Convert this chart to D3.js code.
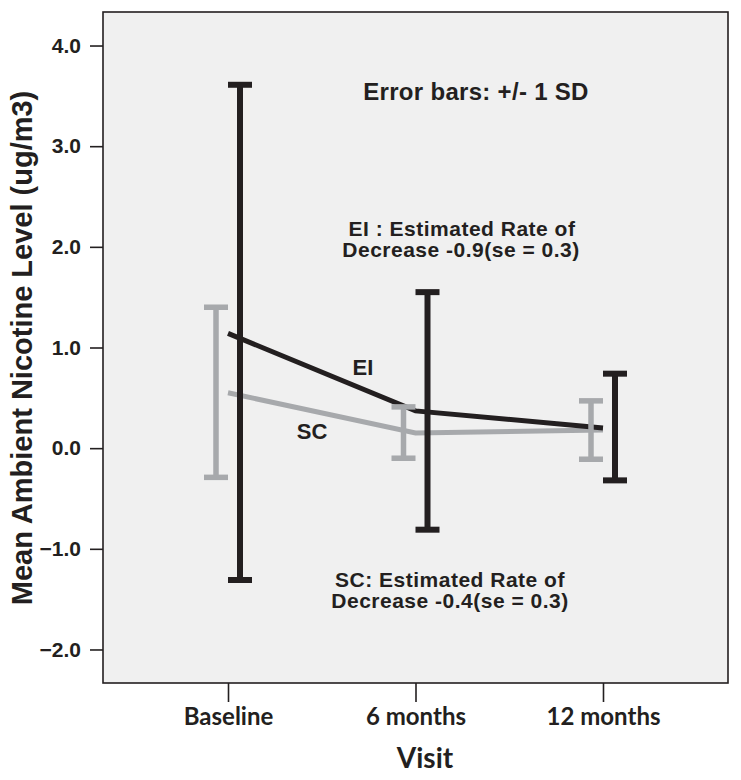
<!DOCTYPE html>
<html>
<head>
<meta charset="utf-8">
<script src="https://cdn.jsdelivr.net/npm/d3@7"></script>
<style>
  html, body { margin: 0; padding: 0; background: #ffffff; }
  svg { display: block; }
</style>
</head>
<body>
<svg id="chart" width="741" height="780"></svg>
<script>
// ---- data ----
const visits = ["Baseline", "6 months", "12 months"];
const eiMean = [1.14, 0.37, 0.20];
const eiLow  = [-1.31, -0.81, -0.32];
const eiHigh = [3.61, 1.55, 0.74];
const scMean = [0.55, 0.15, 0.18];
const scLow  = [-0.29, -0.10, -0.11];
const scHigh = [1.40, 0.41, 0.47];
const yTicks = [-2, -1, 0, 1, 2, 3, 4];

const svg = d3.select("#chart");
const L = 103, T = 12, R = 728, B = 683;
const black = "#231f20", grey = "#a7a9ac";

const x = d3.scalePoint().domain(visits).range([L, R]).padding(0.6667);
const y = d3.scaleLinear().domain([-2.333, 4.333]).range([B, T]);

// plot background
svg.append("rect").attr("x", L).attr("y", T).attr("width", R - L).attr("height", B - T)
  .attr("fill", "#f0f0f0").attr("stroke", black).attr("stroke-width", 1.6);

// y axis
const yAxis = svg.append("g").attr("transform", `translate(${L},0)`)
  .call(d3.axisLeft(y).tickValues(yTicks).tickFormat(d3.format(".1f")).tickSize(13).tickPadding(9));
yAxis.select(".domain").remove();
yAxis.selectAll(".tick line").attr("stroke", black).attr("stroke-width", 1.6);
yAxis.selectAll(".tick text").attr("fill", black)
  .style("font-family", "'Liberation Sans', Arial, sans-serif").style("font-weight", "bold").style("font-size", "21px");

// x axis
const xAxis = svg.append("g").attr("transform", `translate(0,${B})`)
  .call(d3.axisBottom(x).tickSize(19).tickPadding(6));
xAxis.select(".domain").remove();
xAxis.selectAll(".tick line").attr("stroke", black).attr("stroke-width", 1.6);
xAxis.selectAll(".tick text").attr("fill", black)
  .style("font-family", "Lato, sans-serif").style("font-weight", "bold").style("font-size", "24px");

// axis titles
svg.append("text").attr("x", 425).attr("y", 768).attr("text-anchor", "middle")
  .attr("fill", black).style("font-family", "Lato, sans-serif").style("font-weight", "bold")
  .style("font-size", "28px").text("Visit");
svg.append("text").attr("transform", "translate(32,348) rotate(-90)").attr("text-anchor", "middle")
  .attr("fill", black).style("font-family", "'Liberation Sans', Arial, sans-serif").style("font-weight", "bold")
  .style("font-size", "29px").text("Mean Ambient Nicotine Level (ug/m3)");

// lines
const line = d3.line().x(d => x(d.v)).y(d => y(d.m));
const scData = visits.map((v, i) => ({v, m: scMean[i], lo: scLow[i], hi: scHigh[i]}));
const eiData = visits.map((v, i) => ({v, m: eiMean[i], lo: eiLow[i], hi: eiHigh[i]}));
svg.append("path").datum(scData).attr("d", line).attr("fill", "none")
  .attr("stroke", grey).attr("stroke-width", 5);
svg.append("path").datum(eiData).attr("d", line).attr("fill", "none")
  .attr("stroke", black).attr("stroke-width", 5);

// error bars
function errBars(data, off, color, sw) {
  const g = svg.append("g").attr("stroke", color).attr("stroke-width", sw);
  data.forEach(d => {
    const cx = x(d.v) + off;
    g.append("line").attr("x1", cx).attr("x2", cx).attr("y1", y(d.hi)).attr("y2", y(d.lo));
    g.append("line").attr("x1", cx - 12).attr("x2", cx + 12).attr("y1", y(d.hi)).attr("y2", y(d.hi));
    g.append("line").attr("x1", cx - 12).attr("x2", cx + 12).attr("y1", y(d.lo)).attr("y2", y(d.lo));
  });
}
errBars(scData, -12, grey, 5.5);
errBars(eiData, 12, black, 6);

// annotations
const ann = (t, xx, yy, fs, ls) => svg.append("text").attr("x", xx).attr("y", yy).attr("text-anchor", "middle")
  .attr("fill", black).style("font-family", "'Liberation Sans', Arial, sans-serif").style("font-weight", "bold")
  .style("font-size", fs + "px").style("letter-spacing", (ls || 0) + "px").text(t);
ann("Error bars: +/- 1 SD", 476, 100, 24, 0.3);
ann("EI : Estimated Rate of", 462, 236, 21, 0.5);
ann("Decrease -0.9(se = 0.3)", 461, 257, 21, 0.5);
ann("SC: Estimated Rate of", 450, 587, 21, 0.5);
ann("Decrease -0.4(se = 0.3)", 450, 608, 21, 0.5);
ann("EI", 363, 375, 22);
ann("SC", 312, 439, 22);
</script>
</body>
</html>
